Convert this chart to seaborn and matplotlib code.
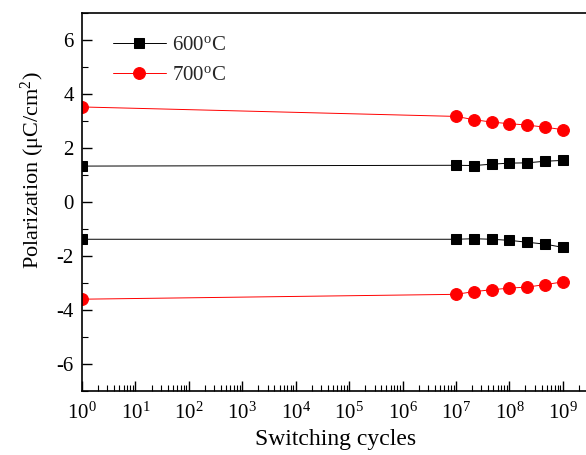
import numpy as np
import pandas as pd
import matplotlib
matplotlib.use("Agg")
import matplotlib.pyplot as plt
import seaborn as sns
from matplotlib.ticker import LogLocator, MultipleLocator

cycles = [1, 1e7, 2.15e7, 4.64e7, 1e8, 2.15e8, 4.64e8, 1e9]
p600_pos = [1.33, 1.36, 1.35, 1.40, 1.44, 1.45, 1.51, 1.54]
p600_neg = [-1.38, -1.38, -1.36, -1.38, -1.42, -1.49, -1.56, -1.68]
p700_pos = [3.52, 3.17, 3.05, 2.96, 2.90, 2.85, 2.77, 2.68]
p700_neg = [-3.60, -3.42, -3.32, -3.25, -3.19, -3.15, -3.06, -2.96]
labels = ["600$^{\\rm o}$C", "700$^{\\rm o}$C"]

sns.set_theme(style="ticks")
plt.rcParams['font.family'] = ['Liberation Serif', 'DejaVu Serif']
plt.rcParams['mathtext.fontset'] = 'custom'
plt.rcParams['mathtext.rm'] = 'Liberation Serif'
plt.rcParams['mathtext.it'] = 'Liberation Serif:italic'

fig = plt.figure(figsize=(5.86, 4.55), dpi=100)
ax = fig.add_axes([82/586, 1-391/455, (589-82)/586, (391-13)/455])

def draw(y, color, marker, ms, label):
    df = pd.DataFrame({"x": cycles, "y": y})
    sns.lineplot(data=df, x="x", y="y", ax=ax, color=color, marker=marker,
                 markersize=ms, markeredgecolor=color, lw=0.7, label=label,
                 legend=label is not None)

draw(p600_pos, "black", "s", 7, labels[0])
draw(p600_neg, "black", "s", 7, None)
draw(p700_pos, "red", "o", 8.5, labels[1])
draw(p700_neg, "red", "o", 8.5, None)

ax.set_xscale("log")
ax.set_xlim(1, 10**9.49)
ax.set_ylim(-7, 7)
ax.xaxis.set_major_locator(LogLocator(base=10, numticks=20))
ax.xaxis.set_minor_locator(LogLocator(base=10, subs=np.arange(2, 10), numticks=20))
ax.yaxis.set_major_locator(MultipleLocator(2))
ax.yaxis.set_minor_locator(MultipleLocator(1))
ax.tick_params(which="both", direction="in", colors="black", labelsize=15,
               bottom=True, left=True, top=False, right=False)
ax.tick_params(which="major", length=7, width=1)
ax.tick_params(which="minor", length=4, width=0.8)
ax.tick_params(axis="x", which="major", pad=8)
ax.tick_params(axis="y", which="major", pad=6)
ax.set_xticks([10**i for i in range(10)])
ax.set_xticklabels(["10$^{%d}$" % i for i in range(10)])
ax.set_yticks([-6, -4, -2, 0, 2, 4, 6])
ax.set_yticklabels(["-6", "-4", "-2", "0", "2", "4", "6"])
ax.set_xlabel("Switching cycles", fontsize=17, color="black", labelpad=4)
ax.set_ylabel("Polarization (μC/cm$^{2}$)", fontsize=16, color="black")
ax.yaxis.set_label_coords(-0.07, 0.585)
for s in ax.spines.values():
    s.set_color("black")
    s.set_linewidth(1.2)

leg = ax.legend(loc="upper left", frameon=False, fontsize=15,
                handlelength=2.5, handletextpad=0.3, bbox_to_anchor=(0.025, 0.99))
fig.savefig("out.png", dpi=100)
